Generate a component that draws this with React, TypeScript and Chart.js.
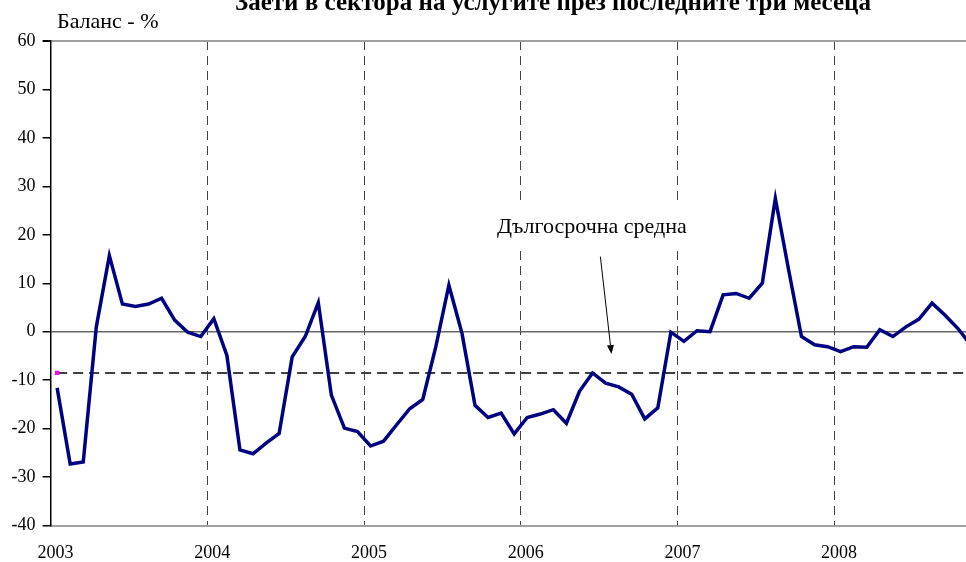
import { useEffect, useRef } from 'react';
import { Chart, registerables } from 'chart.js';

Chart.register(...registerables);

const TITLE = 'Заети в сектора на услугите през последните три месеца';
const Y_LABEL = 'Баланс - %';
const NOTE = 'Дългосрочна средна';
const YEARS = ['2003', '2004', '2005', '2006', '2007', '2008'];
const YEAR_TICKS = [0, 12, 24, 36, 48, 60];
const Y_TICKS = [-40, -30, -20, -10, 0, 10, 20, 30, 40, 50, 60];

// Monthly balance, Jan 2003 – Nov 2008
const BALANCE = [
  -11.6, -27.3, -26.9, 1.0, 15.7, 5.7, 5.2, 5.7, 6.9, 2.4, -0.1, -1.0,
  2.7, -4.9, -24.4, -25.2, -23.0, -21.0, -5.2, -1.0, 6.0, -13.1, -19.9, -20.6,
  -23.6, -22.6, -19.2, -15.9, -14.0, -3.1, 9.6, -0.3, -15.2, -17.7, -16.8, -21.1,
  -17.7, -17.0, -16.1, -18.9, -12.3, -8.5, -10.6, -11.4, -12.9, -18.0, -15.7, -0.1,
  -2.0, 0.2, 0.0, 7.6, 7.9, 6.9, 10.0, 27.5, 13.0, -1.0, -2.7, -3.1,
  -4.1, -3.1, -3.2, 0.4, -1.0, 1.0, 2.6, 5.9, 3.4, 0.6, -2.9,
];
const LONG_TERM_AVG = -8.5;

// annotation placement in data units (months, %)
const NOTE_AT = { x: 41.45, y: 21.6 };
const NOTE_BOX = { x0: 33.5, x1: 49.2, y0: 27.2, y1: 17.4 };
const ARROW_FROM = { x: 42.1, y: 15.5 };
const ARROW_TO = { x: 42.95, y: -4.6 };
const X_MAX = 70.1;

const FONT = 'Liberation Serif';

const overlay = {
  id: 'overlay',
  beforeDatasetsDraw(chart: any) {
    const { ctx, scales } = chart;
    const x = scales.x, y = scales.y;
    ctx.save();
    ctx.fillStyle = '#ffffff';
    const l = x.getPixelForValue(NOTE_BOX.x0);
    const r = x.getPixelForValue(NOTE_BOX.x1);
    const t = y.getPixelForValue(NOTE_BOX.y0);
    const b = y.getPixelForValue(NOTE_BOX.y1);
    ctx.fillRect(l, t, r - l, b - t);
    ctx.restore();
  },
  afterDatasetsDraw(chart: any) {
    const { ctx, scales } = chart;
    const x = scales.x, y = scales.y;
    ctx.save();
    ctx.fillStyle = '#000';
    ctx.font = `22px "${FONT}"`;
    ctx.textAlign = 'center';
    ctx.textBaseline = 'middle';
    ctx.fillText(NOTE, x.getPixelForValue(NOTE_AT.x), y.getPixelForValue(NOTE_AT.y));
    const x1 = x.getPixelForValue(ARROW_FROM.x), y1 = y.getPixelForValue(ARROW_FROM.y);
    const x2 = x.getPixelForValue(ARROW_TO.x), y2 = y.getPixelForValue(ARROW_TO.y);
    const ang = Math.atan2(y2 - y1, x2 - x1);
    const hl = 9, hw = 3.5;
    const bx = x2 - hl * Math.cos(ang), by = y2 - hl * Math.sin(ang);
    ctx.strokeStyle = '#000';
    ctx.lineWidth = 1;
    ctx.beginPath();
    ctx.moveTo(x1, y1);
    ctx.lineTo(bx, by);
    ctx.stroke();
    ctx.beginPath();
    ctx.moveTo(x2, y2);
    ctx.lineTo(bx + hw * Math.sin(ang), by - hw * Math.cos(ang));
    ctx.lineTo(bx - hw * Math.sin(ang), by + hw * Math.cos(ang));
    ctx.closePath();
    ctx.fill();
    ctx.restore();
  },
  afterDraw(chart: any) {
    const { ctx } = chart;
    ctx.save();
    ctx.fillStyle = '#000';
    ctx.textBaseline = 'alphabetic';
    ctx.textAlign = 'center';
    ctx.font = `bold 25px "${FONT}"`;
    ctx.fillText(TITLE, 553, 9.5);
    ctx.textAlign = 'left';
    ctx.font = `22px "${FONT}"`;
    ctx.fillText(Y_LABEL, 57, 28);
    ctx.restore();
  },
};

export default function App() {
  const ref = useRef<HTMLCanvasElement | null>(null);
  useEffect(() => {
    if (!ref.current) return;
    const chart = new Chart(ref.current, {
      type: 'line',
      data: {
        datasets: [
          {
            label: 'Баланс',
            data: BALANCE.map((v, i) => ({ x: i + 0.5, y: v })),
            borderColor: '#000080',
            borderWidth: 3.5,
            pointRadius: 0,
            tension: 0,
            order: 1,
          },
          {
            label: NOTE,
            data: [
              { x: 0.5, y: LONG_TERM_AVG },
              { x: BALANCE.length - 0.5, y: LONG_TERM_AVG },
            ],
            borderColor: '#404040',
            borderWidth: 2,
            borderDash: [10, 6],
            pointStyle: 'rect',
            pointRadius: (c: any) => (c.dataIndex === 0 ? 3 : 0),
            pointBackgroundColor: '#ff00ff',
            pointBorderColor: '#ff00ff',
            pointBorderWidth: 0,
            tension: 0,
            order: 2,
          },
        ],
      },
      options: {
        animation: false,
        responsive: false,
        layout: { autoPadding: false, padding: { top: 41, left: 0, right: 0, bottom: 0 } },
        plugins: { legend: { display: false }, tooltip: { enabled: false }, title: { display: false } },
        scales: {
          x: {
            type: 'linear',
            min: 0,
            max: X_MAX,
            afterBuildTicks: (s: any) => {
              s.ticks = YEAR_TICKS.map((v) => ({ value: v }));
            },
            afterFit: (s: any) => {
              s.height = 36.5;
              s.paddingLeft = 0;
              s.paddingRight = 0;
            },
            ticks: {
              callback: (_v: any, i: number) => YEARS[i],
              font: { family: FONT, size: 18 },
              color: '#000',
              padding: 17,
              labelOffset: 5,
              maxRotation: 0,
              autoSkip: false,
            },
            grid: {
              drawTicks: false,
              color: (c: any) => (c.tick && c.tick.value === 0 ? 'rgba(0,0,0,0)' : '#444'),
              lineWidth: 1,
            },
            border: { display: true, color: '#a0a0a0', width: 2, dash: [9, 6] },
          },
          y: {
            min: -40,
            max: 60,
            afterBuildTicks: (s: any) => {
              s.ticks = Y_TICKS.map((v) => ({ value: v }));
            },
            afterFit: (s: any) => {
              s.width = 50.6;
              s.paddingTop = 0;
              s.paddingBottom = 0;
            },
            ticks: {
              font: { family: FONT, size: 18 },
              color: '#000',
              padding: 7,
            },
            grid: {
              drawTicks: true,
              tickLength: 8,
              tickColor: '#000',
              color: (c: any) => {
                const v = c.tick ? c.tick.value : null;
                if (v === 60) return '#a0a0a0';
                if (v === 0) return '#666';
                return 'rgba(0,0,0,0)';
              },
              lineWidth: (c: any) => (c.tick && c.tick.value === 60 ? 2 : 1.5),
            },
            border: { display: true, color: '#000', width: 1.5 },
          },
        },
      },
      plugins: [overlay],
    });
    return () => chart.destroy();
  }, []);
  return (
    <canvas
      ref={ref}
      width={966}
      height={562}
      style={{ position: 'fixed', left: 0, top: 0, display: 'block' }}
    />
  );
}
